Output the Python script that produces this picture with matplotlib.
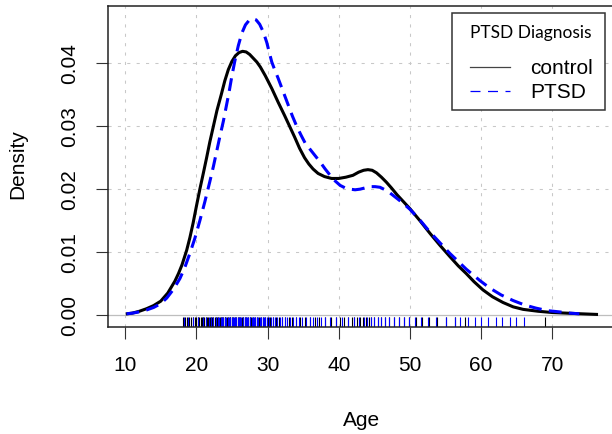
"""
Age density by PTSD diagnosis, with rug of individual ages
"""

import matplotlib
matplotlib.use("Agg")
import matplotlib.pyplot as plt
from matplotlib.lines import Line2D
from matplotlib.patches import Rectangle

# density curves
control_x = [10.3, 11, 12, 13, 14, 15, 16, 17, 17.5, 18, 18.65, 19.1, 19.55, 20.0, 20.5, 21.0,
             21.45, 21.9, 22.4, 22.9, 23.5, 24.0, 24.5, 25.0, 25.5, 26.0, 26.5, 27.0, 27.5,
             28.0, 28.5, 29.0, 29.7, 30.6, 31.5, 32.4, 33.1, 33.8, 34.5, 35.2, 35.8, 36.4,
             37.1, 38.0, 39.0, 40.0, 41.0, 42.0, 42.8, 43.5, 44.1, 44.7, 45.3, 46.0, 46.7,
             47.4, 48.2, 49.1, 50.0, 51.4, 52.8, 54.2, 55.6, 56.8, 57.9, 59.0, 60.25, 61.6,
             63.06, 64.5, 65.9, 68, 70, 72, 74, 76.2]
control_y = [0.0002, 0.0003, 0.0006, 0.0010, 0.0015, 0.0022, 0.0035, 0.0054, 0.0066, 0.0080,
             0.0103, 0.0123, 0.0146, 0.0172, 0.0200, 0.0226, 0.0250, 0.0275, 0.0300, 0.0325,
             0.0350, 0.0372, 0.0390, 0.0403, 0.0412, 0.0417, 0.0419, 0.0418, 0.0414, 0.0408,
             0.0402, 0.0394, 0.0380, 0.0360, 0.0338, 0.0317, 0.0300, 0.0283, 0.0265, 0.0250,
             0.0240, 0.0232, 0.0225, 0.0220, 0.0217, 0.0217, 0.0219, 0.0222, 0.0227, 0.0230,
             0.0231, 0.0230, 0.0226, 0.0219, 0.0211, 0.0202, 0.0191, 0.0180, 0.0169, 0.0150,
             0.0130, 0.0111, 0.0093, 0.0078, 0.0066, 0.0053, 0.0040, 0.0029, 0.0020, 0.0013,
             0.0009, 0.0006, 0.0004, 0.0003, 0.0002, 0.0001]

ptsd_x = [10.2, 11, 12, 13, 14, 15, 15.85, 16.8, 17.7, 18.4, 19.1, 19.8, 20.5, 21.2, 21.9,
          22.4, 22.86, 23.3, 23.8, 24.2, 24.6, 25.0, 25.4, 25.9, 26.4, 26.9, 27.4, 27.9, 28.4,
          28.9, 29.4, 29.9, 30.3, 30.6, 31.0, 31.5, 32.2, 32.9, 33.5, 34.1, 34.7, 35.3, 36.0,
          36.7, 37.4, 38.1, 38.8, 39.5, 40.2, 40.9, 41.6, 42.3, 43.0, 43.7, 44.4, 45.1, 45.8,
          46.5, 47.2, 48.1, 49.0, 50.0, 51.4, 52.8, 54.2, 55.6, 56.8, 57.9, 59.8, 61.2, 62.8,
          64.5, 66.1, 67.7, 69.3, 71.0, 72.5, 73.8]
ptsd_y = [0.0002, 0.0003, 0.0005, 0.0008, 0.0012, 0.0018, 0.0027, 0.0041, 0.0058, 0.0076,
          0.0098, 0.0122, 0.0150, 0.0180, 0.0212, 0.0236, 0.0260, 0.0283, 0.0308, 0.0331,
          0.0354, 0.0380, 0.0403, 0.0428, 0.0448, 0.0461, 0.0468, 0.0471, 0.0469, 0.0462,
          0.0450, 0.0433, 0.0415, 0.0402, 0.0390, 0.0376, 0.0355, 0.0334, 0.0316, 0.0300,
          0.0286, 0.0273, 0.0263, 0.0253, 0.0243, 0.0232, 0.0222, 0.0213, 0.0206, 0.0202,
          0.0200, 0.0199, 0.0200, 0.0202, 0.0204, 0.0204, 0.0203, 0.0199, 0.0194, 0.0186,
          0.0178, 0.0168, 0.0151, 0.0132, 0.0115, 0.0098, 0.0085, 0.0073, 0.0055, 0.0043,
          0.0032, 0.0023, 0.0016, 0.0011, 0.0007, 0.0005, 0.0003, 0.0002]

# rug of ages (estimated)
control_ages = [18.1, 18.4, 18.7, 19.0, 19.3, 19.5, 19.8, 20.0, 20.2, 20.4, 20.6, 20.8, 21.0,
                21.1, 21.3, 21.5, 21.7, 21.9, 22.0, 22.2, 22.4, 22.6, 22.7, 22.9, 23.1, 23.3,
                23.4, 23.6, 23.8, 24.0, 24.1, 24.3, 24.5, 24.7, 24.8, 25.0, 25.2, 25.4, 25.6,
                25.8, 26.0, 26.2, 26.4, 26.6, 26.8, 27.0, 27.2, 27.5, 27.7, 28.0, 28.2, 28.5,
                28.8, 29.1, 29.4, 29.7, 30.0, 30.4, 30.8, 31.2, 31.6, 32.0, 32.5, 33.0, 33.5,
                34.0, 34.6, 35.2, 35.9, 36.6, 37.3, 38.1, 38.9, 39.6, 40.2, 40.8, 41.3, 41.8,
                42.2, 42.6, 43.0, 43.4, 43.8, 44.2, 44.6, 45.0, 45.5, 46.0, 46.5, 47.1, 47.7,
                48.4, 49.1, 49.9, 50.8, 51.7, 52.7, 53.8, 55.0, 56.3, 57.8, 69.0]
ptsd_ages = [18.3, 18.9, 19.6, 20.3, 20.9, 21.4, 21.8, 22.1, 22.4, 22.7, 23.0, 23.2, 23.4,
             23.6, 23.8, 24.0, 24.2, 24.4, 24.6, 24.8, 25.0, 25.1, 25.3, 25.5, 25.6, 25.8,
             26.0, 26.1, 26.3, 26.5, 26.6, 26.8, 27.0, 27.1, 27.3, 27.5, 27.6, 27.8, 28.0,
             28.1, 28.3, 28.5, 28.7, 28.9, 29.1, 29.3, 29.5, 29.7, 29.9, 30.2, 30.5, 30.8,
             31.1, 31.4, 31.7, 32.0, 32.4, 32.8, 33.2, 33.6, 34.0, 34.4, 34.9, 35.4, 35.9,
             36.4, 36.9, 37.5, 38.1, 38.8, 39.6, 40.4, 41.3, 42.2, 42.9, 43.5, 44.0, 44.5,
             45.0, 45.5, 46.0, 46.5, 47.1, 47.7, 48.4, 49.1, 49.9, 50.7, 51.6, 52.6, 53.7,
             55.1, 56.3, 57.0, 58.1, 59.1, 60.0, 60.9, 62.1, 63.0, 64.0, 64.9, 66.0]

x_ticks = [10, 20, 30, 40, 50, 60, 70]
y_ticks = [0.00, 0.01, 0.02, 0.03, 0.04]
y_tick_labels = ["0.00", "0.01", "0.02", "0.03", "0.04"]

W, H = 612, 434


def fx(px):
    return px / W


def fy(py):
    return 1 - py / H


def main() -> None:
    plt.rcParams["font.family"] = ["Liberation Sans", "DejaVu Sans"]
    fig = plt.figure(figsize=(W / 100, H / 100), dpi=100)
    ax = fig.add_axes([fx(108), fy(327), (615 - 108) / W, (327 - 6) / H])
    ax.set_xlim(7.6, 78.8)
    ax.set_ylim(-0.0019, 0.0491)

    grid_kw = dict(color="#c8c8c8", lw=0.75, linestyle=(0, (3, 6)), zorder=0)
    for x in x_ticks:
        ax.axvline(x, **grid_kw)
    for y in y_ticks[1:]:
        ax.axhline(y, **grid_kw)
    ax.axhline(0, color="#bebebe", lw=0.9, zorder=1)

    xt = ax.get_xaxis_transform()
    ax.vlines(control_ages, 0, 0.03, transform=xt, color="black", lw=0.8, zorder=2)
    ax.vlines(ptsd_ages, 0, 0.03, transform=xt, color="blue", lw=0.8, zorder=2)

    ax.plot(control_x, control_y, color="black", lw=2.2, zorder=3,
            solid_joinstyle="round")
    ax.plot(ptsd_x, ptsd_y, color="blue", lw=2.2, dashes=(4.2, 2.4), zorder=4)

    ax.set_xticks(x_ticks)
    ax.set_xticklabels([str(x) for x in x_ticks])
    ax.set_yticks(y_ticks)
    ax.set_yticklabels(y_tick_labels, rotation=90, va="center")
    ax.tick_params(axis="both", length=8.6, width=0.8, color="#333333",
                   labelsize=15, direction="out")
    ax.tick_params(axis="x", pad=12)
    ax.tick_params(axis="y", pad=12)
    for s in ax.spines.values():
        s.set_linewidth(1.1)
        s.set_color("#222222")

    fig.text(fx(361.5), fy(420), "Age", ha="center", va="center", fontsize=15)
    fig.text(fx(18), fy(164), "Density", ha="center", va="center", rotation=90, fontsize=15)

    # legend box drawn by hand
    fig.add_artist(Rectangle((fx(452), fy(110)), fx(605) - fx(452), fy(13) - fy(110),
                             transform=fig.transFigure, facecolor="white",
                             edgecolor="#333333", lw=1.1, zorder=5))
    fig.text(fx(531), fy(33), "PTSD Diagnosis", ha="center", va="center",
             fontsize=12.5, family=["Lato", "DejaVu Sans"], zorder=6)
    fig.add_artist(Line2D([fx(470), fx(510)], [fy(67), fy(67)], color="#444444", lw=0.9,
                          transform=fig.transFigure, zorder=6))
    fig.add_artist(Line2D([fx(470), fx(510)], [fy(91), fy(91)], color="blue", lw=0.9,
                          dashes=(8, 6), transform=fig.transFigure, zorder=6))
    fig.text(fx(530), fy(68), "control", ha="left", va="center", fontsize=15, zorder=6)
    fig.text(fx(530), fy(92), "PTSD", ha="left", va="center", fontsize=15, zorder=6)

    fig.savefig("out.png", dpi=100)


if __name__ == "__main__":
    main()
